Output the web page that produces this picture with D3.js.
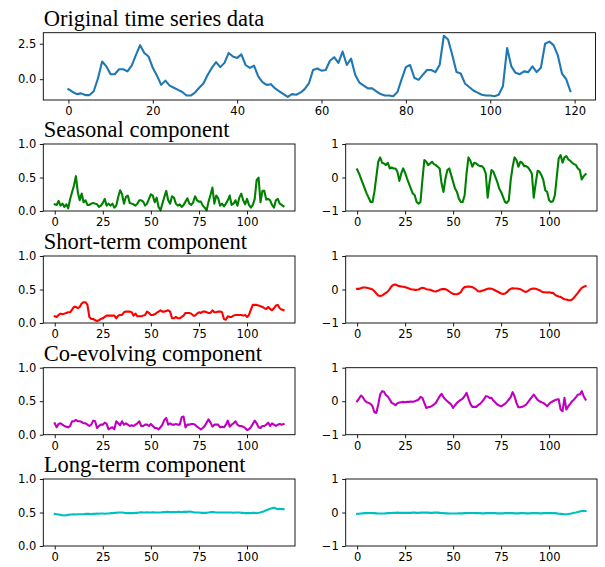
<!DOCTYPE html>
<html>
<head>
<meta charset="utf-8">
<script src="https://cdn.jsdelivr.net/npm/d3@7"></script>
<style>
  html, body { margin: 0; padding: 0; background: #fff; }
  svg { display: block; }
</style>
</head>
<body>
<svg id="chart" width="605" height="567"></svg>
<script>
// ---------------- data ----------------
const original = [-0.70,-0.90,-1.05,-1.00,-1.12,-1.12,-0.85,0.05,1.25,0.90,
0.35,0.35,0.70,0.70,0.55,0.95,1.70,2.40,1.85,1.60,
0.80,0.25,-0.40,-0.10,-0.45,-0.60,-0.75,-0.90,-1.15,-1.15,
-0.95,-0.60,-0.30,0.30,0.80,1.20,0.85,1.15,1.85,1.60,
1.50,1.75,1.00,0.80,0.95,0.20,-0.20,-0.40,-0.35,-0.65,
-0.85,-1.05,-1.25,-1.05,-1.10,-0.95,-0.70,-0.30,0.65,0.75,
0.60,0.65,1.30,1.55,1.15,1.95,1.00,1.45,0.30,-0.25,
-0.45,-0.65,-0.65,-0.85,-1.05,-1.15,-1.15,-1.20,-0.90,0.00,
0.85,1.00,0.10,-0.05,0.30,0.65,0.65,0.50,1.00,3.06,
2.80,1.70,0.50,0.40,-0.30,-0.55,-0.80,-0.95,-1.10,-1.15,
-1.15,-1.20,-1.10,-0.50,2.20,0.90,0.45,0.35,0.55,0.50,
0.90,0.50,0.80,2.50,2.65,2.40,1.70,0.40,0.00,-0.85];

const seasonalWeight = [0.10,0.09,0.15,0.08,0.11,0.06,0.10,0.04,0.18,0.28,
0.38,0.52,0.28,0.16,0.26,0.13,0.16,0.09,0.09,0.11,
0.12,0.11,0.10,0.06,0.08,0.12,0.18,0.08,0.11,0.08,
0.11,0.05,0.08,0.21,0.31,0.25,0.11,0.21,0.23,0.12,
0.11,0.10,0.08,0.11,0.16,0.16,0.14,0.08,0.11,0.18,
0.25,0.23,0.13,0.20,0.06,0.01,0.11,0.21,0.30,0.16,
0.11,0.22,0.20,0.11,0.08,0.10,0.06,0.09,0.14,0.19,
0.11,0.09,0.13,0.22,0.16,0.14,0.14,0.08,0.05,0.01,
0.14,0.24,0.35,0.11,0.23,0.19,0.08,0.11,0.07,0.11,
0.16,0.23,0.09,0.11,0.16,0.08,0.20,0.26,0.16,0.10,
0.18,0.09,0.05,0.09,0.18,0.46,0.50,0.13,0.30,0.30,
0.17,0.18,0.16,0.09,0.05,0.16,0.18,0.11,0.09,0.07];

const seasonalSignal = [0.24,0.12,-0.03,-0.18,-0.33,-0.48,-0.60,-0.73,-0.73,-0.43,
0.02,0.47,0.60,0.44,0.42,0.37,0.44,0.27,0.30,0.27,
0.27,0.17,-0.10,0.12,0.27,0.14,-0.03,-0.18,-0.33,-0.48,
-0.53,-0.73,-0.78,-0.73,-0.08,0.52,0.47,0.37,0.42,0.47,
0.40,0.37,0.32,0.27,-0.18,-0.43,-0.03,0.22,0.27,0.07,
-0.13,-0.33,-0.43,-0.63,-0.73,-0.73,-0.53,0.12,0.60,0.50,
0.32,0.44,0.42,0.37,0.34,0.34,0.27,0.12,-0.60,-0.13,
0.22,0.17,0.02,-0.13,-0.33,-0.43,-0.58,-0.73,-0.76,-0.68,
-0.08,0.32,0.60,0.52,0.32,0.47,0.44,0.34,0.34,0.30,
0.22,0.12,-0.60,-0.18,0.20,0.17,0.07,-0.08,-0.38,-0.43,
-0.68,-0.73,-0.71,-0.53,0.02,0.57,0.67,0.44,0.60,0.64,
0.54,0.50,0.44,0.40,0.37,0.27,0.22,-0.06,0.04,0.10];

const shortWeight = [0.10,0.09,0.12,0.14,0.13,0.14,0.15,0.16,0.16,0.20,
0.24,0.24,0.22,0.24,0.29,0.31,0.31,0.27,0.09,0.06,
0.06,0.04,0.03,0.04,0.06,0.07,0.09,0.11,0.11,0.11,
0.11,0.11,0.07,0.11,0.12,0.12,0.16,0.17,0.17,0.17,
0.16,0.11,0.14,0.10,0.10,0.10,0.11,0.12,0.17,0.15,
0.12,0.12,0.13,0.15,0.17,0.19,0.17,0.17,0.18,0.19,
0.17,0.07,0.07,0.09,0.07,0.07,0.09,0.11,0.15,0.15,
0.15,0.14,0.11,0.11,0.14,0.16,0.15,0.17,0.17,0.16,
0.15,0.15,0.19,0.16,0.16,0.17,0.17,0.16,0.06,0.05,
0.10,0.09,0.09,0.11,0.12,0.12,0.12,0.12,0.11,0.12,
0.09,0.12,0.20,0.27,0.27,0.27,0.26,0.25,0.24,0.22,
0.21,0.24,0.21,0.19,0.22,0.26,0.27,0.22,0.20,0.19];

const shortSignal = [0.02,0.02,0.04,0.06,0.06,0.05,0.04,0.02,0.00,-0.05,
-0.12,-0.18,-0.19,-0.18,-0.14,-0.10,-0.06,0.02,0.10,0.14,
0.15,0.12,0.10,0.09,0.08,0.07,0.05,0.03,0.01,0.00,
-0.01,-0.01,0.00,0.03,0.05,0.04,0.01,0.00,-0.01,-0.03,
-0.05,-0.06,-0.04,-0.01,0.01,0.01,0.01,-0.02,-0.06,-0.10,
-0.13,-0.14,-0.14,-0.12,-0.08,0.02,0.07,0.08,0.09,0.08,
0.07,0.04,0.00,-0.05,-0.06,-0.04,-0.02,0.00,0.02,0.03,
0.02,0.00,-0.03,-0.06,-0.09,-0.12,-0.13,-0.12,-0.08,-0.02,
0.02,0.04,0.03,0.03,0.02,0.01,-0.02,-0.06,-0.07,-0.04,
0.00,0.02,0.03,0.02,0.00,-0.02,-0.06,-0.08,-0.08,-0.09,
-0.08,-0.10,-0.10,-0.15,-0.19,-0.21,-0.22,-0.26,-0.29,-0.30,
-0.32,-0.32,-0.30,-0.24,-0.17,-0.10,-0.02,0.05,0.08,0.10];

const coWeight = [0.17,0.11,0.16,0.17,0.15,0.13,0.12,0.11,0.13,0.20,
0.20,0.22,0.20,0.20,0.19,0.17,0.17,0.15,0.13,0.15,
0.21,0.20,0.10,0.13,0.15,0.15,0.18,0.16,0.08,0.10,
0.11,0.08,0.20,0.17,0.14,0.20,0.15,0.17,0.15,0.13,
0.14,0.13,0.15,0.17,0.20,0.13,0.13,0.15,0.15,0.13,
0.16,0.13,0.10,0.10,0.08,0.11,0.15,0.22,0.25,0.15,
0.17,0.15,0.15,0.16,0.15,0.15,0.26,0.27,0.11,0.15,
0.15,0.16,0.16,0.15,0.12,0.10,0.08,0.10,0.13,0.18,
0.23,0.18,0.12,0.15,0.15,0.15,0.11,0.12,0.11,0.15,
0.21,0.12,0.15,0.17,0.20,0.15,0.13,0.13,0.12,0.10,
0.07,0.08,0.11,0.16,0.21,0.17,0.11,0.10,0.13,0.13,
0.15,0.18,0.13,0.17,0.15,0.13,0.15,0.16,0.15,0.16];

const coSignal = [0.00,0.08,0.17,0.12,0.02,-0.03,-0.05,-0.08,-0.15,-0.33,
-0.35,-0.10,0.20,0.30,0.28,0.18,0.14,0.05,-0.05,-0.08,
-0.12,-0.06,-0.04,-0.03,-0.02,-0.03,-0.02,-0.02,-0.01,-0.02,
0.00,0.02,0.05,0.13,0.10,-0.05,-0.20,-0.18,-0.17,-0.14,
-0.10,-0.05,0.05,0.15,0.22,0.12,0.05,0.00,-0.05,-0.10,
-0.20,-0.12,-0.05,0.00,0.04,0.08,0.15,0.25,0.08,-0.08,
-0.17,-0.17,-0.17,-0.12,-0.08,-0.02,0.05,0.15,0.14,0.10,
0.10,0.02,-0.04,-0.10,-0.13,-0.15,-0.12,-0.08,-0.02,0.05,
0.12,0.27,0.15,-0.05,-0.18,-0.18,-0.17,-0.14,-0.10,-0.03,
0.05,0.12,0.20,0.12,0.04,0.00,-0.03,-0.05,-0.10,-0.15,
-0.08,-0.03,0.00,0.03,0.05,0.06,-0.25,-0.30,0.10,-0.25,
-0.15,-0.08,0.00,0.05,0.12,0.20,0.20,0.30,0.15,0.05];

const longWeight = [0.48,0.475,0.47,0.465,0.46,0.455,0.46,0.465,0.47,0.47,
0.475,0.47,0.475,0.475,0.475,0.475,0.48,0.48,0.48,0.475,
0.48,0.48,0.485,0.48,0.485,0.485,0.48,0.485,0.485,0.49,
0.49,0.495,0.495,0.50,0.50,0.50,0.495,0.49,0.49,0.49,
0.49,0.49,0.495,0.495,0.50,0.505,0.50,0.50,0.505,0.50,
0.50,0.505,0.50,0.50,0.50,0.50,0.505,0.505,0.51,0.51,
0.505,0.505,0.505,0.505,0.51,0.51,0.505,0.51,0.51,0.51,
0.515,0.51,0.505,0.50,0.50,0.50,0.495,0.495,0.495,0.495,
0.50,0.505,0.505,0.505,0.50,0.50,0.50,0.50,0.50,0.50,
0.50,0.50,0.50,0.495,0.50,0.50,0.50,0.495,0.495,0.49,
0.49,0.49,0.49,0.495,0.495,0.49,0.495,0.50,0.51,0.52,
0.535,0.545,0.555,0.565,0.57,0.56,0.55,0.555,0.55,0.55];

const longSignal = [-0.04,-0.035,-0.03,-0.025,-0.02,-0.02,-0.015,-0.015,-0.02,-0.02,
-0.025,-0.03,-0.03,-0.03,-0.03,-0.025,-0.02,-0.02,-0.015,-0.01,
-0.01,-0.005,-0.01,-0.01,-0.01,-0.01,-0.01,-0.01,-0.01,-0.005,
-0.005,-0.01,-0.01,-0.005,-0.005,0.00,-0.005,-0.005,-0.01,-0.01,
-0.005,-0.005,-0.005,-0.01,-0.015,-0.02,-0.025,-0.025,-0.03,-0.03,
-0.03,-0.03,-0.03,-0.025,-0.025,-0.025,-0.02,-0.02,-0.015,-0.015,
-0.015,-0.02,-0.02,-0.02,-0.02,-0.025,-0.025,-0.02,-0.02,-0.02,
-0.02,-0.02,-0.02,-0.025,-0.025,-0.025,-0.025,-0.02,-0.02,-0.02,
-0.02,-0.02,-0.025,-0.025,-0.025,-0.02,-0.02,-0.02,-0.025,-0.025,
-0.025,-0.02,-0.02,-0.02,-0.02,-0.025,-0.025,-0.02,-0.02,-0.02,
-0.02,-0.02,-0.02,-0.02,-0.025,-0.035,-0.04,-0.045,-0.05,-0.05,
-0.045,-0.035,-0.025,-0.01,0.00,0.015,0.03,0.045,0.05,0.04];

const titles = ["Original time series data", "Seasonal component", "Short-term component",
                "Co-evolving component", "Long-term component"];
const colors = ["#1f77b4", "#008000", "#ff0000", "#bf00bf", "#00bfbf"];
const topXTicks = [0, 20, 40, 60, 80, 100, 120];
const topYTicks = [0.0, 2.5];
const panelXTicks = [0, 25, 50, 75, 100];
const leftYTicks = [0.0, 0.5, 1.0];
const rightYTicks = [-1, 0, 1];

// ---------------- layout ----------------
const svg = d3.select("#chart");
svg.append("rect").attr("width", 605).attr("height", 567).attr("fill", "#fff");

const tickFont = "DejaVu Sans, sans-serif";
const titleFont = "Liberation Serif, Times New Roman, serif";

function padded(vals) {
  const lo = d3.min(vals), hi = d3.max(vals);
  const m = (hi - lo) * 0.05;
  return [lo - m, hi + m];
}

function drawPanel(box, values, yDomain, xTicks, yTicks, yFmt, color, title) {
  const n = values.length;
  const x = d3.scaleLinear().domain(padded([0, n - 1])).range([box.x0, box.x1]);
  const y = d3.scaleLinear().domain(yDomain).range([box.y1, box.y0]);
  const g = svg.append("g");

  g.append("path")
    .datum(values)
    .attr("fill", "none")
    .attr("stroke", color)
    .attr("stroke-width", 2.1)
    .attr("stroke-linejoin", "round")
    .attr("stroke-linecap", "square")
    .attr("d", d3.line().x((d, i) => x(i)).y(d => y(d)));

  const xa = g.append("g").attr("transform", `translate(0,${box.y1})`)
    .call(d3.axisBottom(x).tickValues(xTicks).tickSize(3.5).tickPadding(3.5).tickSizeOuter(0));
  const ya = g.append("g").attr("transform", `translate(${box.x0},0)`)
    .call(d3.axisLeft(y).tickValues(yTicks).tickFormat(yFmt).tickSize(3.5).tickPadding(3.5).tickSizeOuter(0));
  [xa, ya].forEach(a => {
    a.select(".domain").remove();
    a.selectAll("line").attr("stroke", "#000").attr("stroke-width", 0.9);
    a.selectAll("text").attr("font-family", tickFont).attr("font-size", 11.5).attr("fill", "#000");
  });

  g.append("rect")
    .attr("x", box.x0).attr("y", box.y0)
    .attr("width", box.x1 - box.x0).attr("height", box.y1 - box.y0)
    .attr("fill", "none").attr("stroke", "#000").attr("stroke-width", 0.9);

  if (title) {
    g.append("text")
      .attr("x", box.x0 + 0.5).attr("y", box.y0 - 7)
      .attr("font-family", titleFont).attr("font-size", 22.5).attr("fill", "#000")
      .text(title);
  }
}

drawPanel({x0: 43.3, x1: 595.5, y0: 32.7, y1: 100}, original, padded(original),
  topXTicks, topYTicks, d3.format(".1f"), colors[0], titles[0]);

const rowsTop = [144, 256, 367.7, 479];
const rowH = 67;
const leftBox = [43.3, 295];
const rightBox = [345.7, 597];
const leftSeries = [seasonalWeight, shortWeight, coWeight, longWeight];
const rightSeries = [seasonalSignal, shortSignal, coSignal, longSignal];

rowsTop.forEach((t, k) => {
  drawPanel({x0: leftBox[0], x1: leftBox[1], y0: t, y1: t + rowH}, leftSeries[k], [0, 1],
    panelXTicks, leftYTicks, d3.format(".1f"), colors[k + 1], titles[k + 1]);
  drawPanel({x0: rightBox[0], x1: rightBox[1], y0: t, y1: t + rowH}, rightSeries[k], [-1, 1],
    panelXTicks, rightYTicks, d3.format("d"), colors[k + 1], null);
});
</script>
</body>
</html>
